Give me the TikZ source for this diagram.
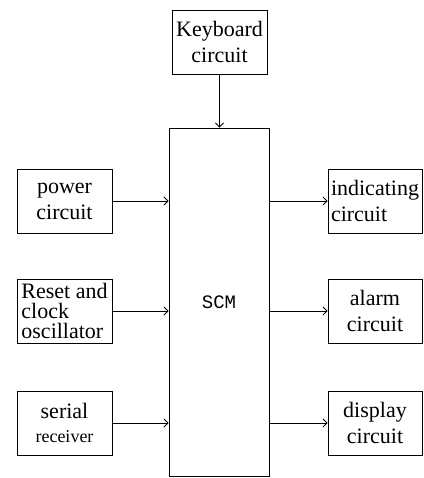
\documentclass[tikz,border=0pt]{standalone}
\usepackage{fontspec}
\setmainfont{Liberation Serif}
\newfontfamily\scmfont{Liberation Mono}
\usepackage{tikz}
\usetikzlibrary{arrows.meta, positioning}

\begin{document}
\begin{tikzpicture}[x=1pt, y=-1pt, line width=0.9pt,
  >={Straight Barb[length=4pt, width=8pt]},
  blk/.style={draw, inner sep=1pt, minimum width=95pt, minimum height=64pt,
    align=center, font=\fontsize{22}{26}\selectfont}]
\useasboundingbox (0,0) rectangle (423,478);
  % Centre block
  \node[draw, minimum width=100pt, minimum height=348pt, inner sep=0pt,
    font=\scmfont\fontsize{19}{20}\selectfont] (scm) at (219,302) {SCM};
  \node[blk] (kbd) at (219.5,42) {Keyboard\\circuit};
  % Inputs
  \node[blk] (power) at (64.5,201) {power\\circuit};
  \node[blk, font=\fontsize{22}{20}\selectfont, align=left] (reset) at (64.5,311)
    {Reset and\\clock\\oscillator};
  \node[blk] (serial) at (64.5,423)
    {serial\\[-2pt]{\fontsize{18}{20}\selectfont receiver}};
  % Outputs
  \node[blk, minimum width=94pt, align=left] (ind) at (375,201) {indicating\\circuit};
  \node[blk, minimum width=94pt] (alarm) at (375,311) {alarm\\circuit};
  \node[blk, minimum width=94pt] (disp) at (375,423) {display\\circuit};
  % Arrows
  \draw[->] (kbd.south) -- (kbd.south |- scm.north);
  \foreach \n in {power, reset, serial}
    \draw[->] (\n.east) -- (\n.east -| scm.west);
  \foreach \n in {ind, alarm, disp}
    \draw[->] (\n.west -| scm.east) -- (\n.west);
\end{tikzpicture}
\end{document}
